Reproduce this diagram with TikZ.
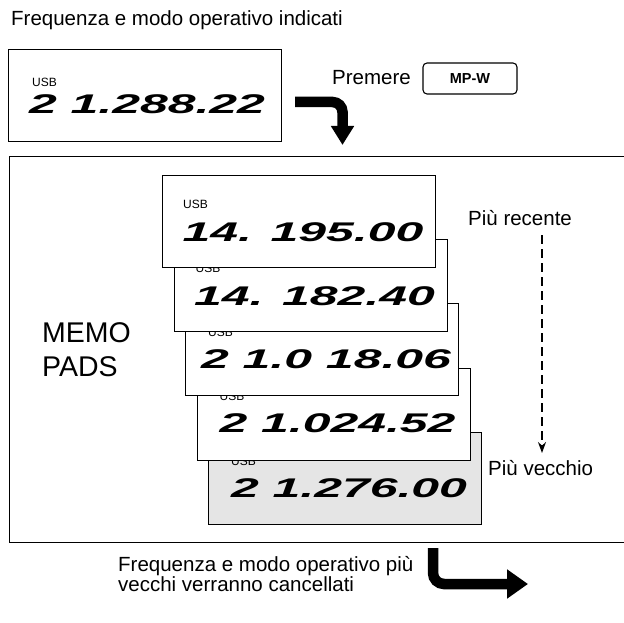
\documentclass[tikz,border=0pt]{standalone}
\usepackage{fontspec}
\setmainfont{Liberation Sans}
\newfontfamily\lcdfont{Liberation Sans}[FakeStretch=1.85]
\usetikzlibrary{positioning,arrows.meta,calc}

\begin{document}
\begin{tikzpicture}[
    x=1pt, y=-1pt,
    font=\fontsize{20.5}{24}\selectfont,
    disp/.style={draw, line width=1.1pt, fill=white, anchor=north west, minimum width=273pt, minimum height=92pt, inner sep=0pt},
    usb/.style={font=\fontsize{12}{14}\selectfont, inner sep=0pt, anchor=west},
    lcd/.style={font=\lcdfont\bfseries\itshape\fontsize{27}{29}\selectfont, inner sep=0pt},
    txt/.style={inner sep=0pt, anchor=base west},
    fat/.style={line width=10.5pt}
]
\useasboundingbox (0,0) rectangle (624,623);

% Current display
\node[txt] (title) at (11,26) {Frequenza e modo operativo indicati};
\node[disp] (now) at (8,49) {};
\node[usb] (usb0) at ($(now.north west)+(24,33)$) {USB};
\node[lcd] (f0) at ($(now.north)+(2,55)$) {2 1.288.22};

% Key
\node[txt] (press) at (332,85) {Premere};
\node[draw, line width=1.1pt, rounded corners=4pt, minimum width=94pt, minimum height=31pt, font=\bfseries\fontsize{14.5}{16}\selectfont] (key) at (470,78.5) {MP-W};

% Memo pads frame
\node[draw, line width=1.1pt, anchor=north west, minimum width=640pt, minimum height=386pt, inner sep=0pt] (pads) at (9,156) {};
\node[txt, font=\fontsize{28.5}{34}\selectfont] (memo) at (42,342) {MEMO};
\node[txt, font=\fontsize{28.5}{34}\selectfont] (padsl) at (42,376) {PADS};

% Stack, oldest at the back
\node[disp, fill=black!10] (pad5) at (208,432) {};
\node[usb] (usb5) at ($(pad5.north west)+(23,29)$) {USB};
\node[lcd] (f5) at ($(pad5.north)+(4,56)$) {2 1.276.00};

\node[disp] (pad4) at (196.5,367.5) {};
\node[usb] (usb4) at ($(pad4.north west)+(23,29)$) {USB};
\node[lcd] (f4) at ($(pad4.north)+(4,56)$) {2 1.024.52};

\node[disp] (pad3) at (185,303) {};
\node[usb] (usb3) at ($(pad3.north west)+(23,29)$) {USB};
\node[lcd] (f3) at ($(pad3.north)+(4,56)$) {2 1.0 18.06};

\node[disp] (pad2) at (173.5,239) {};
\node[usb] (usb2) at ($(pad2.north west)+(22,29)$) {USB};
\node[lcd] (f2) at ($(pad2.north)+(4,57)$) {14. 182.40};

\node[disp] (pad1) at (162,175) {};
\node[usb] (usb1) at ($(pad1.north west)+(21,29)$) {USB};
\node[lcd] (f1) at ($(pad1.north)+(4,57)$) {14. 195.00};

% Order labels
\node[txt] (newest) at (468,225) {Più recente};
\node[txt] (oldest) at (488,475) {Più vecchio};
\coordinate (d0) at (542,235);
\coordinate (d1) at (542,453);
\draw[line width=1.1pt, dash pattern=on 9pt off 5pt, -{Stealth[length=11pt,width=8pt]}] (d0) -- (d1);

% Bottom note
\node[txt] (erased1) at (118,571) {Frequenza e modo operativo più};
\node[txt] (erased2) at (118,591) {vecchi verranno cancellati};

% Arrows
\coordinate (a0) at (295,102);
\coordinate (a1) at (342.5,145);
\draw[fat, rounded corners=10pt, -{Triangle[length=19pt,width=22pt]}] (a0) -| (a1);
\coordinate (b0) at (433,548);
\coordinate (b1) at (528,584);
\draw[fat, rounded corners=11pt, -{Triangle[length=21pt,width=28pt]}] (b0) |- (b1);

\end{tikzpicture}
\end{document}
